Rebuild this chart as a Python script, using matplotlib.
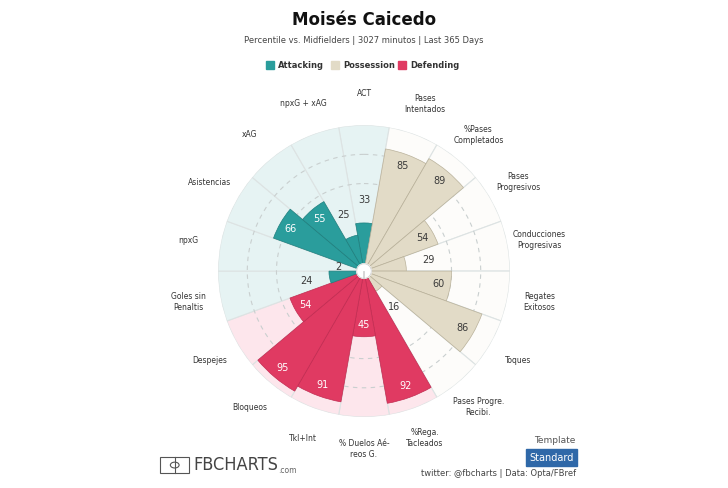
import numpy as np
import matplotlib
import matplotlib.pyplot as plt
from matplotlib.patches import Rectangle, Circle

matplotlib.use("Agg")

# datos del gráfico (sentido horario desde arriba)
categorias = ["ACT", "Pases\nIntentados", "%Pases\nCompletados", "Pases\nProgresivos",
              "Conducciones\nProgresivas", "Regates\nExitosos", "Toques",
              "Pases Progre.\nRecibi.", "%Rega.\nTacleados", "% Duelos Aé-\nreos G.",
              "Tkl+Int", "Bloqueos", "Despejes", "Goles sin\nPenaltis", "npxG",
              "Asistencias", "xAG", "npxG + xAG"]
valores = [33, 85, 89, 54, 29, 60, 86, 16, 92, 45, 91, 95, 54, 24, 2, 66, 55, 25]
grupos = ["A", "P", "P", "P", "P", "P", "P", "P", "D", "D", "D", "D", "D",
          "A", "A", "A", "A", "A"]

color_bar = {"A": "#2a9d9c", "P": "#e2dbc7", "D": "#e03a62"}
color_borde = {"A": "#1f7f7e", "P": "#b9b19a", "D": "#c22b51"}
color_fondo = {"A": "#e6f3f3", "P": "#fdfcfa", "D": "#fde6ec"}
color_txt = {"A": "white", "P": "#3a3a3a", "D": "white"}

fig = plt.figure(figsize=(7.28, 4.88), dpi=100)
fig.patch.set_facecolor("white")

ax = fig.add_axes([0.2995, 0.1455, 0.401, 0.598], projection="polar")
ax.set_theta_zero_location("N")
ax.set_theta_direction(-1)
ax.set_ylim(0, 100)
ax.set_facecolor("white")
ax.grid(False)
ax.set_xticks([])
ax.set_yticks([])
ax.spines["polar"].set_visible(False)

n = len(valores)
ang = np.deg2rad(np.arange(n) * 360 / n)
ancho = 2 * np.pi / n

# fondo de cada sector
for i in range(n):
    g = grupos[i]
    ax.bar(ang[i], 100, width=ancho, bottom=0, color=color_fondo[g],
           edgecolor="#dde3e3", linewidth=0.8, zorder=1)

# circulos punteados
t = np.linspace(0, 2 * np.pi, 400)
for r in [60, 80]:
    ax.plot(t, np.full_like(t, r), color="#c9cfcf", lw=0.8, ls=(0, (4, 4)), zorder=2)

# barras
for i in range(n):
    g = grupos[i]
    ax.bar(ang[i], valores[i], width=ancho, bottom=0, color=color_bar[g],
           edgecolor=color_borde[g], linewidth=0.5, zorder=3)

# etiquetas de valores
for i in range(n):
    v = valores[i]
    g = grupos[i]
    if v >= 40:
        ax.text(ang[i], v - 8, str(v), ha="center", va="center", fontsize=7,
                color=color_txt[g], zorder=5)
    else:
        ax.text(ang[i], v + 16, str(v), ha="center", va="center", fontsize=7,
                color="#3a3a3a", zorder=5)

# nombres de categorias
for i in range(n):
    ax.text(ang[i], 122, categorias[i], ha="center", va="center", fontsize=5.5,
            color="#333333", linespacing=1.3, zorder=5)

# circulo central
ax.add_artist(Circle((0, 0), 5, transform=ax.transData._b, color="white", zorder=6))
ax.bar(0, 5, width=2 * np.pi, bottom=0, color="white", edgecolor="#d0d0d0",
       linewidth=0.6, zorder=6)

# titulos
fig.text(0.5, 0.958, "Moisés Caicedo", ha="center", va="center", fontsize=12,
         fontweight="bold", color="#111111")
fig.text(0.5, 0.916, "Percentile vs. Midfielders | 3027 minutos | Last 365 Days",
         ha="center", va="center", fontsize=6, color="#444444")

# leyenda
leg = [("Attacking", "#2a9d9c", 0.371), ("Possession", "#e2dbc7", 0.460),
       ("Defending", "#e03a62", 0.553)]
for nombre, c, x in leg:
    fig.patches.append(Rectangle((x - 0.006, 0.858), 0.011, 0.016, color=c,
                                 transform=fig.transFigure, figure=fig))
    fig.text(x + 0.011, 0.866, nombre, ha="left", va="center", fontsize=6,
             fontweight="bold", color="#333333")

# pie
fig.patches.append(Rectangle((0.22, 0.030), 0.040, 0.034, fill=False, ec="#555555",
                             lw=0.8, transform=fig.transFigure, figure=fig))
fig.lines.append(plt.Line2D([0.24, 0.24], [0.030, 0.064], color="#555555", lw=0.8,
                            transform=fig.transFigure))
fig.patches.append(Circle((0.24, 0.047), 0.006, fill=False, ec="#555555", lw=0.8,
                          transform=fig.transFigure, figure=fig))
fig.text(0.265, 0.047, "FBCHARTS", ha="left", va="center", fontsize=13,
         color="#444444", family="DejaVu Sans", fontstretch="condensed")
fig.text(0.382, 0.030, ".com", ha="left", va="baseline", fontsize=5.5, color="#666666")

fig.text(0.79, 0.098, "Template", ha="right", va="center", fontsize=6.5, color="#555555")
fig.text(0.758, 0.062, "Standard", ha="center", va="center", fontsize=7, color="white",
         bbox=dict(boxstyle="square,pad=0.35", fc="#2f68a8", ec="#2f68a8"))
fig.text(0.792, 0.030, "twitter: @fbcharts | Data: Opta/FBref", ha="right",
         va="center", fontsize=6, color="#444444")

fig.savefig("out.png", dpi=100, facecolor="white")
